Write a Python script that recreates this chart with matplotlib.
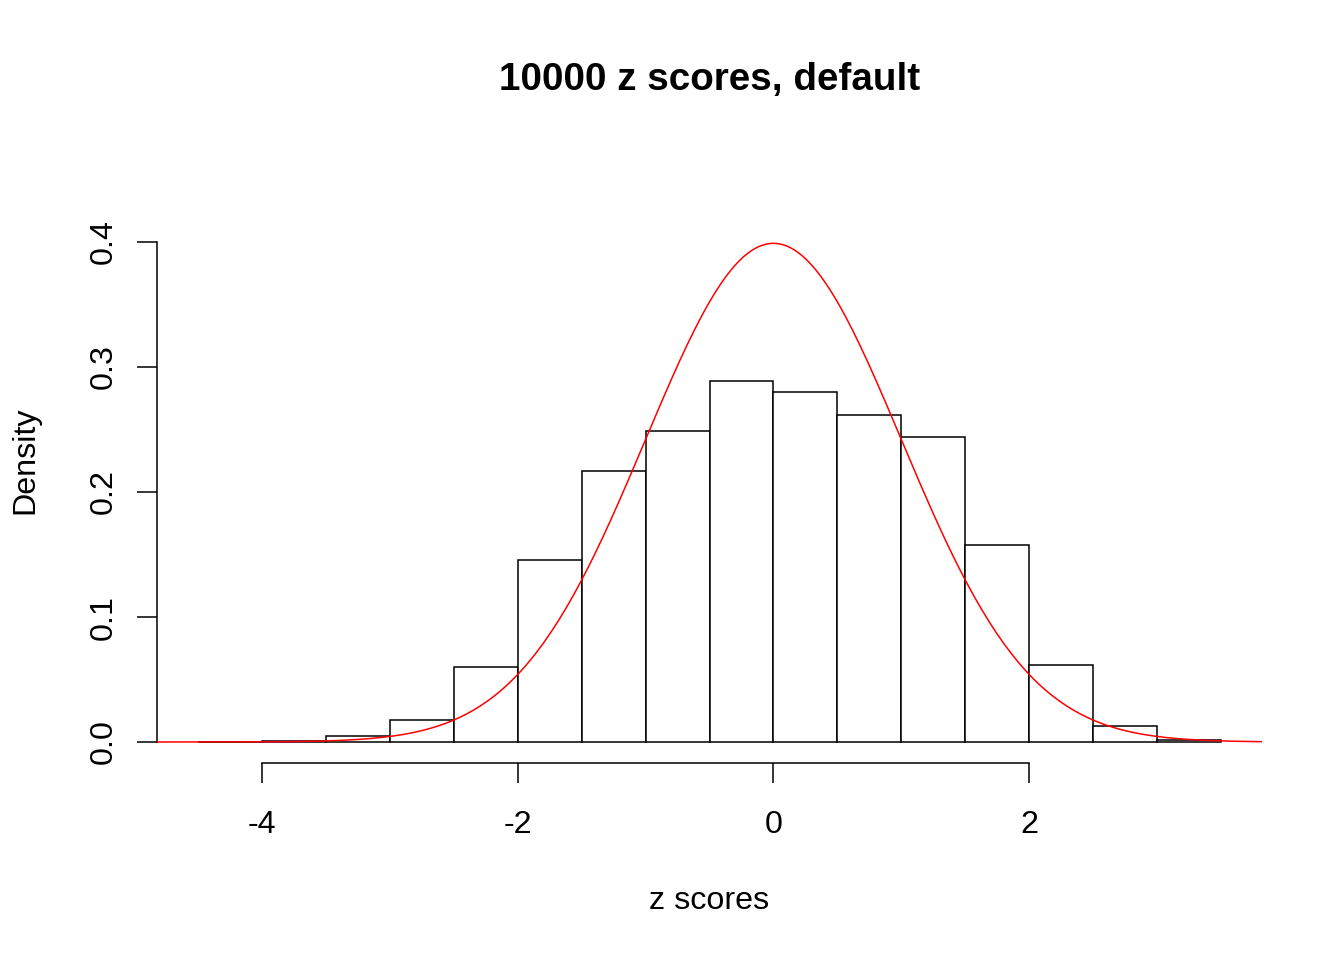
import numpy as np
import matplotlib
matplotlib.use('Agg')
import matplotlib.pyplot as plt

# histogram (density, bin width 0.5)
bin_left = [-4.5, -4.0, -3.5, -3.0, -2.5, -2.0, -1.5, -1.0, -0.5,
            0.0, 0.5, 1.0, 1.5, 2.0, 2.5, 3.0]
density = [0.0004, 0.0008, 0.005, 0.0176, 0.0603, 0.1456, 0.2168, 0.249, 0.2888,
           0.2798, 0.2616, 0.2437, 0.158, 0.0616, 0.013, 0.002]
bin_width = 0.5

# overlaid reference curve: standard normal
curve_mean = 0.0
curve_sd = 1.0

xticks = [-4, -2, 0, 2]
yticks = [0.0, 0.1, 0.2, 0.3, 0.4]

plt.rcParams['font.family'] = ['Liberation Sans', 'DejaVu Sans']

fig = plt.figure(figsize=(13.44, 9.6), dpi=100)
ax = fig.add_axes([157/1344, 1-762/960, (1262-157)/1344, (762-222)/960])

lw = 1.1
ax.bar(bin_left, density, width=bin_width, align='edge',
       facecolor='white', edgecolor='black', linewidth=lw, zorder=2)

xlo, xhi = -4.82, 3.82
xs = np.linspace(xlo, xhi, 301)
ys = np.exp(-0.5*((xs-curve_mean)/curve_sd)**2)/(curve_sd*np.sqrt(2*np.pi))
ax.plot(xs, ys, color='#ff0000', linewidth=lw, zorder=3)

ax.set_xlim(xlo, xhi)
ax.set_ylim(-0.016, 0.416)

for s in ['top', 'right']:
    ax.spines[s].set_visible(False)
ax.spines['left'].set_bounds(0, 0.4)
ax.spines['bottom'].set_bounds(-4, 2)
ax.spines['left'].set_linewidth(lw)
ax.spines['bottom'].set_linewidth(lw)
ax.spines['bottom'].set_position(('outward', 1))

ax.set_xticks(xticks)
ax.set_xticklabels([str(v) for v in xticks])
ax.set_yticks(yticks)
ax.set_yticklabels(['%.1f' % v for v in yticks], rotation=90, va='center')
ax.tick_params(axis='both', length=14.4, width=lw, labelsize=23.2)
ax.tick_params(axis='x', pad=19)
ax.tick_params(axis='y', pad=13)

fig.text(709.5/1344, 1-80/960, '10000 z scores, default', ha='center', va='center',
         fontsize=27.8, fontweight='bold')
fig.text(709.5/1344, 1-901/960, 'z scores', ha='center', va='center', fontsize=23.2)
fig.text(25/1344, 1-460/960, 'Density', ha='center', va='center', fontsize=23.2,
         rotation=90)

fig.savefig('out.png', dpi=100)
